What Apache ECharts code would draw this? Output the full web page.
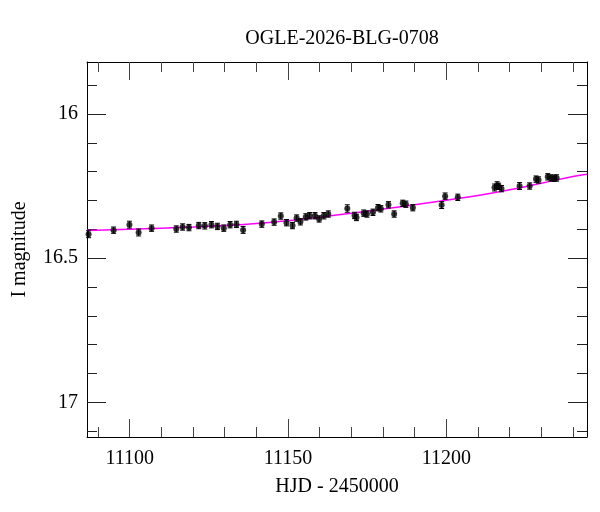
<!DOCTYPE html>
<html>
<head>
<meta charset="utf-8">
<script src="https://cdn.jsdelivr.net/npm/echarts@6/dist/echarts.min.js"></script>
<style>
  html, body { margin: 0; padding: 0; background: #fff; }
  #chart { width: 600px; height: 512px; }
</style>
</head>
<body>
<div id="chart"></div>
<script>
// light curve data
var days = [
  11087.0, 11094.9, 11099.9, 11102.8, 11106.9, 11114.7, 11116.7, 11118.7, 11121.8, 11123.7,
  11125.8, 11127.7, 11129.7, 11131.7, 11133.7, 11135.8,
  11141.7, 11145.6, 11147.7, 11149.5, 11151.4, 11152.7, 11153.9, 11155.6, 11156.8, 11158.5,
  11159.8, 11161.3, 11162.7, 11168.7, 11171.0, 11171.6, 11173.9, 11174.9, 11176.8, 11178.4,
  11179.3, 11181.7, 11183.5, 11186.2, 11187.2, 11189.4,
  11198.5, 11199.6, 11203.6, 11215.2, 11216.0, 11216.5, 11217.4, 11223.1, 11226.3, 11228.3,
  11229.1, 11232.0, 11233.0, 11234.0, 11234.8
];
var mags = [
  16.417, 16.403, 16.384, 16.411, 16.396, 16.399, 16.392, 16.394, 16.387, 16.388,
  16.384, 16.390, 16.396, 16.384, 16.383, 16.402,
  16.382, 16.375, 16.354, 16.377, 16.387, 16.361, 16.374, 16.357, 16.353, 16.353,
  16.364, 16.353, 16.347, 16.328, 16.352, 16.359, 16.344, 16.347, 16.341, 16.325,
  16.329, 16.315, 16.347, 16.310, 16.313, 16.325,
  16.316, 16.285, 16.289, 16.255, 16.247, 16.251, 16.259, 16.250, 16.250, 16.226,
  16.229, 16.218, 16.222, 16.223, 16.222
];
var errs = [
  0.012, 0.011, 0.012, 0.012, 0.011, 0.011, 0.011, 0.011, 0.011, 0.011,
  0.011, 0.011, 0.011, 0.011, 0.011, 0.012,
  0.011, 0.011, 0.011, 0.011, 0.011, 0.011, 0.011, 0.011, 0.011, 0.011,
  0.011, 0.011, 0.011, 0.013, 0.011, 0.011, 0.011, 0.011, 0.011, 0.011,
  0.011, 0.011, 0.011, 0.011, 0.011, 0.011,
  0.012, 0.011, 0.011, 0.012, 0.012, 0.011, 0.011, 0.012, 0.011, 0.011,
  0.011, 0.011, 0.011, 0.011, 0.011
];

// fitted model curve
var modelDays = [11086.5, 11100, 11110, 11120, 11130, 11140, 11150, 11160, 11170, 11180,
  11190, 11200, 11210, 11220, 11230, 11240, 11244.4];
var modelMags = [16.404, 16.400, 16.396, 16.392, 16.387, 16.380, 16.370, 16.358, 16.344, 16.330,
  16.315, 16.299, 16.283, 16.263, 16.240, 16.217, 16.209];

// ticks
var xMajor = [11100, 11150, 11200];
var xMinor = [11090, 11110, 11120, 11130, 11140, 11160, 11170, 11180, 11190, 11210, 11220, 11230, 11240];
var yMajor = [16, 16.5, 17];
var yMinor = [15.9, 16.1, 16.2, 16.3, 16.4, 16.6, 16.7, 16.8, 16.9, 17.1];

var xMin = 11086.5, xMax = 11244.4;
var yMin = 15.82, yMax = 17.12;

var font = 'Liberation Serif';
var fsize = 20;

var points = [];
for (var i = 0; i < days.length; i++) {
  points.push([days[i], mags[i], errs[i]]);
}
var model = [];
for (var j = 0; j < modelDays.length; j++) {
  model.push([modelDays[j], modelMags[j]]);
}

function plain(v) {
  return String(v);
}

function xAxisDef(pos, ticks, len, labels, line) {
  return {
    type: 'value', position: pos, min: xMin, max: xMax,
    axisLine: { show: line, onZero: false, lineStyle: { color: '#000', width: 1 } },
    axisTick: { show: true, inside: true, length: len, customValues: ticks, lineStyle: { color: '#444' } },
    axisLabel: { show: labels, customValues: ticks, formatter: plain, margin: 12, color: '#000', fontFamily: font, fontSize: fsize },
    splitLine: { show: false }
  };
}
function yAxisDef(pos, ticks, len, labels, line) {
  return {
    type: 'value', position: pos, min: yMin, max: yMax, inverse: true,
    axisLine: { show: line, onZero: false, lineStyle: { color: '#000', width: 1 } },
    axisTick: { show: true, inside: true, length: len, customValues: ticks, lineStyle: { color: '#222' } },
    axisLabel: { show: labels, customValues: ticks, formatter: plain, margin: 9, color: '#000', fontFamily: font, fontSize: fsize },
    splitLine: { show: false }
  };
}

var xAxes = [
  xAxisDef('bottom', xMajor, 18, true, true),
  xAxisDef('bottom', xMinor, 10, false, false),
  xAxisDef('top', xMajor, 18, false, true),
  xAxisDef('top', xMinor, 10, false, false)
];
xAxes[0].name = 'HJD - 2450000';
xAxes[0].nameLocation = 'middle';
xAxes[0].nameGap = 40;
xAxes[0].nameTextStyle = { color: '#000', fontFamily: font, fontSize: fsize };

var yAxes = [
  yAxisDef('left', yMajor, 19, true, true),
  yAxisDef('left', yMinor, 10, false, false),
  yAxisDef('right', yMajor, 19, false, true),
  yAxisDef('right', yMinor, 10, false, false)
];
yAxes[0].name = 'I magnitude';
yAxes[0].nameLocation = 'middle';
yAxes[0].nameGap = 57;
yAxes[0].nameTextStyle = { color: '#000', fontFamily: font, fontSize: fsize };

function renderErr(params, api) {
  var x = api.value(0), y = api.value(1), e = api.value(2);
  var top = api.coord([x, y - e]);
  var bot = api.coord([x, y + e]);
  var w = 2.5;
  var st = { stroke: '#000', lineWidth: 1 };
  return {
    type: 'group',
    children: [
      { type: 'line', shape: { x1: top[0], y1: top[1], x2: bot[0], y2: bot[1] }, style: st },
      { type: 'line', shape: { x1: top[0] - w, y1: top[1], x2: top[0] + w, y2: top[1] }, style: st },
      { type: 'line', shape: { x1: bot[0] - w, y1: bot[1], x2: bot[0] + w, y2: bot[1] }, style: st }
    ]
  };
}

var mychart = echarts.init(document.getElementById('chart'));
var option = {
  animation: false,
  backgroundColor: '#fff',
  title: {
    text: 'OGLE-2026-BLG-0708',
    left: 337, top: 24, textAlign: 'center',
    textStyle: { color: '#000', fontFamily: font, fontSize: fsize, fontWeight: 'normal' }
  },
  grid: { left: 87, right: 13, top: 62, bottom: 75 },
  xAxis: xAxes,
  yAxis: yAxes,
  series: [
    {
      type: 'line', data: model, smooth: true, showSymbol: false,
      lineStyle: { color: '#ff00ff', width: 1.5 }, z: 1
    },
    {
      type: 'custom', data: points, renderItem: renderErr, z: 2,
      encode: { x: 0, y: 1 }
    },
    {
      type: 'scatter', data: points, symbolSize: 6, z: 3,
      itemStyle: { color: '#000' }, encode: { x: 0, y: 1 }
    }
  ]
};
mychart.setOption(option);
</script>
</body>
</html>
